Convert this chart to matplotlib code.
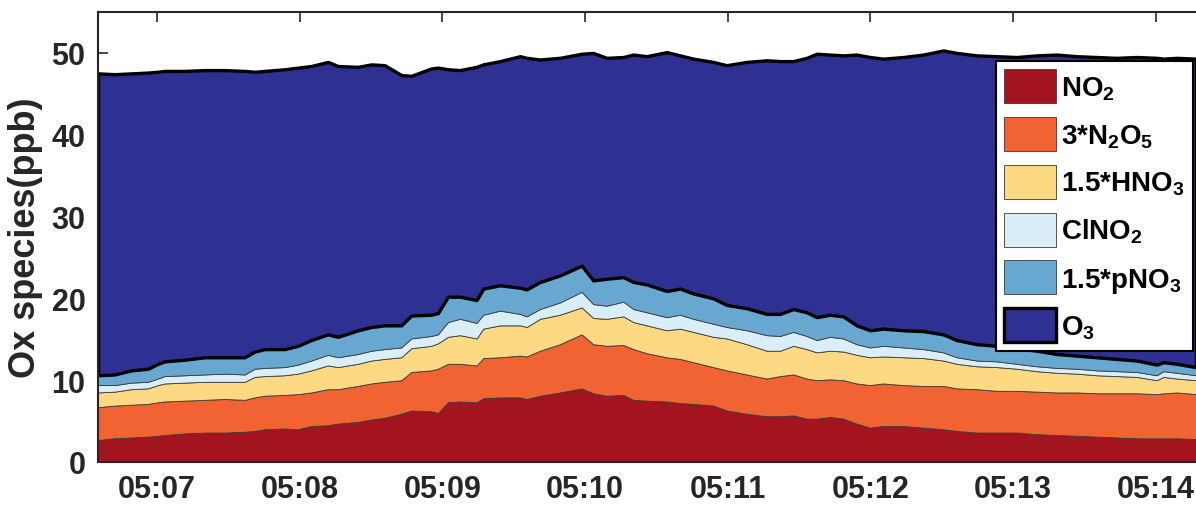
import numpy as np
import matplotlib.pyplot as plt
import matplotlib.dates as mdates

plt.rcParams['font.family'] = ['Liberation Sans', 'DejaVu Sans']
plt.rcParams['font.weight'] = 'bold'
plt.rcParams['mathtext.fontset'] = 'custom'
plt.rcParams['mathtext.rm'] = 'Liberation Sans:bold'
plt.rcParams['mathtext.it'] = 'Liberation Sans:bold'
plt.rcParams['mathtext.bf'] = 'Liberation Sans:bold'

# sample times, days since 05-07 00:00
day_offset = [-0.413, -0.296, -0.180, -0.063, 0.007, 0.054, 0.194, 0.334, 0.474, 0.615,
              0.685, 0.755, 0.895, 0.988, 1.081, 1.198, 1.268, 1.409, 1.502, 1.596,
              1.712, 1.782, 1.922, 1.969, 2.039, 2.123, 2.240, 2.287, 2.404, 2.544,
              2.591, 2.684, 2.824, 2.976, 3.057, 3.151, 3.268, 3.338, 3.432, 3.572,
              3.665, 3.758, 3.898, 3.992, 4.132, 4.273, 4.366, 4.459, 4.553, 4.623,
              4.716, 4.809, 4.903, 4.996, 5.090, 5.230, 5.370, 5.510, 5.604, 5.744,
              5.884, 6.025, 6.165, 6.305, 6.445, 6.585, 6.725, 6.865, 7.006, 7.053,
              7.146, 7.281]

# cumulative tops of the stack (ppb)
no2_top = [2.7, 2.9, 3.0, 3.1, 3.2, 3.3, 3.5, 3.6, 3.6, 3.7, 3.8, 4.0, 4.1, 4.0, 4.4,
           4.5, 4.7, 4.9, 5.2, 5.4, 5.9, 6.3, 6.2, 6.0, 7.3,
           7.4, 7.3, 7.8, 7.9, 7.9, 7.7, 8.1, 8.5, 9.0, 8.4, 8.1, 8.2, 7.6, 7.5, 7.4,
           7.2, 7.1, 6.9, 6.3, 5.9, 5.6, 5.6, 5.7, 5.3, 5.3,
           5.5, 5.3, 4.7, 4.2, 4.4, 4.4, 4.2, 4.0, 3.8, 3.6, 3.6, 3.6, 3.4, 3.3, 3.2,
           3.1, 3.0, 2.9, 2.9, 2.9, 2.9, 2.8]
n2o5_top = [6.7, 6.9, 7.0, 7.1, 7.3, 7.4, 7.5, 7.6, 7.7, 7.6, 7.9, 8.1, 8.2, 8.3, 8.5,
            8.9, 8.9, 9.3, 9.6, 9.8, 10.0, 11.0, 11.2, 11.4, 12.0,
            12.0, 11.8, 12.7, 12.8, 13.0, 12.9, 13.6, 14.4, 15.6, 14.4, 14.2, 14.3, 13.8,
            13.3, 12.8, 12.6, 12.2, 11.6, 11.2, 10.7, 10.2, 10.5, 10.7, 10.2, 10.0,
            10.1, 10.0, 9.6, 9.4, 9.6, 9.4, 9.3, 9.3, 9.0, 8.9, 8.7, 8.7, 8.6, 8.5, 8.5,
            8.4, 8.4, 8.4, 8.3, 8.4, 8.5, 8.3]
hno3_top = [8.5, 8.6, 8.9, 9.0, 9.4, 9.6, 9.7, 9.8, 9.8, 9.8, 10.4, 10.5, 10.6, 10.8,
            11.2, 11.8, 11.6, 12.0, 12.4, 12.6, 12.8, 13.9, 14.2, 14.5, 15.3,
            15.5, 15.1, 16.3, 16.7, 16.7, 16.5, 17.5, 18.0, 18.9, 17.6, 17.5, 17.8, 17.1,
            16.7, 16.1, 16.3, 15.9, 15.3, 15.1, 14.4, 13.6, 13.6, 14.2, 13.8, 13.4,
            13.6, 13.5, 13.1, 12.8, 12.9, 12.8, 12.7, 12.4, 12.0, 11.7, 11.6, 11.4, 11.1,
            10.9, 10.8, 10.6, 10.5, 10.4, 10.0, 10.4, 10.2, 10.0]
clno2_top = [9.4, 9.4, 9.7, 9.8, 10.2, 10.5, 10.6, 10.7, 10.8, 10.7, 11.4, 11.5, 11.6,
             11.9, 12.4, 13.1, 12.8, 13.2, 13.6, 13.8, 14.0, 15.1, 15.4, 15.6, 17.1,
             17.5, 17.0, 18.0, 18.5, 18.1, 17.8, 18.7, 19.5, 20.8, 19.3, 19.1, 19.6, 18.7,
             18.3, 17.7, 18.0, 17.5, 16.9, 16.5, 16.1, 15.5, 15.4, 15.9, 15.4, 14.9,
             15.3, 15.1, 14.4, 14.0, 14.2, 14.0, 13.8, 13.4, 12.8, 12.4, 12.3, 12.0, 11.7,
             11.5, 11.4, 11.2, 11.1, 11.0, 10.6, 11.1, 10.9, 10.6]
pno3_top = [10.6, 10.7, 11.2, 11.4, 12.0, 12.3, 12.5, 12.8, 12.8, 12.8, 13.5, 13.8, 13.8,
            14.2, 14.9, 15.6, 15.3, 16.1, 16.5, 16.7, 16.7, 17.9, 18.0, 18.2, 20.2,
            20.2, 19.8, 21.2, 21.6, 21.3, 21.1, 22.0, 22.8, 24.0, 22.2, 22.4, 22.6, 22.0,
            21.7, 20.9, 21.2, 20.6, 20.0, 19.2, 18.8, 18.1, 18.1, 18.7, 18.3, 17.7,
            18.0, 17.8, 16.7, 16.1, 16.3, 16.1, 16.0, 15.6, 14.9, 14.4, 14.2, 13.9, 13.6,
            13.2, 13.0, 12.8, 12.6, 12.4, 11.9, 12.2, 12.0, 11.6]
o3_top = [47.5, 47.4, 47.5, 47.6, 47.7, 47.8, 47.8, 47.9, 47.9, 47.8, 47.7, 47.8, 48.0,
          48.2, 48.4, 48.9, 48.4, 48.3, 48.6, 48.5, 47.3, 47.2, 48.1, 48.2, 48.0,
          47.9, 48.3, 48.6, 49.0, 49.6, 49.4, 49.2, 49.4, 49.9, 50.0, 49.4, 49.5, 49.8,
          49.6, 50.1, 49.7, 49.3, 48.9, 48.5, 48.9, 49.1, 49.0, 49.0, 49.4, 49.9,
          49.8, 49.7, 49.8, 49.5, 49.3, 49.5, 49.8, 50.3, 50.0, 49.7, 49.6, 49.5, 49.7,
          49.8, 49.6, 49.5, 49.4, 49.5, 49.4, 49.3, 49.4, 49.3]

labels = ['NO$_2$', '3*N$_2$O$_5$', '1.5*HNO$_3$', 'ClNO$_2$', '1.5*pNO$_3$', 'O$_3$']
colors = ['#A3141F', '#F26334', '#FCD982', '#DAEEF7', '#68A7D0', '#2E3092']

t0 = np.datetime64('2018-05-07T00:00:00')
t = t0 + (np.array(day_offset) * 86400).astype('timedelta64[s]')
x = mdates.date2num(t)

tops = np.vstack([no2_top, n2o5_top, hno3_top, clno2_top, pno3_top, o3_top])
layers = np.diff(np.vstack([np.zeros(len(x)), tops]), axis=0)

fig = plt.figure(figsize=(11.96, 5.06), dpi=100)
ax = fig.add_axes([98 / 1196, 43 / 506, 1098 / 1196, 450 / 506])

polys = ax.stackplot(x, layers, colors=colors, labels=labels)
for p in polys[:-1]:
    p.set_edgecolor('#3a3a3a')
    p.set_linewidth(0.6)
polys[-1].set_edgecolor('black')
polys[-1].set_linewidth(2.4)

ax.set_xlim(x[0], x[-1])
ax.set_ylim(0, 55)
ax.set_yticks([0, 10, 20, 30, 40, 50])
ax.xaxis.set_major_locator(mdates.DayLocator())
ax.xaxis.set_major_formatter(mdates.DateFormatter('%m:%d'))
ax.set_axisbelow(True)

ax.tick_params(direction='in', length=7, width=1.2, top=True, right=False,
               labelsize=22, pad=9, colors='#262626')
for side in ['left', 'bottom', 'top']:
    ax.spines[side].set_color('#262626')
    ax.spines[side].set_linewidth(1.5)
ax.spines['right'].set_visible(False)

ax.set_ylabel('Ox species(ppb)', fontsize=26, fontweight='bold', color='#262626',
              labelpad=6)

leg = ax.legend(loc='upper right', bbox_to_anchor=(1193 / 1196, 1 - 62 / 506),
                bbox_transform=fig.transFigure, borderaxespad=0,
                fancybox=False, framealpha=1, edgecolor='black',
                prop={'size': 20, 'weight': 'bold'},
                handlelength=1.85, handleheight=1.5, labelspacing=0.5,
                handletextpad=0.2, borderpad=0.3)
leg.get_frame().set_linewidth(1.5)

fig.savefig('out.png', dpi=100)
